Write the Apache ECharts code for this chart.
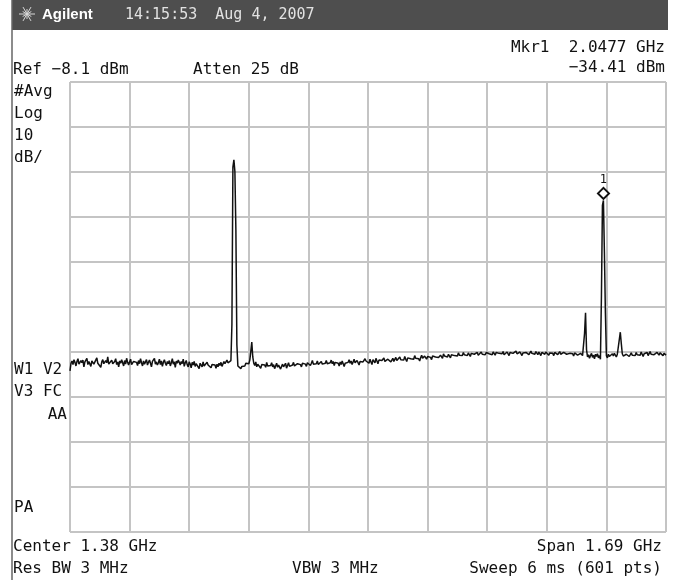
<!DOCTYPE html>
<html>
<head>
<meta charset="utf-8">
<title>Agilent spectrum</title>
<script src="https://cdn.jsdelivr.net/npm/echarts@6/dist/echarts.min.js"></script>
<style>
  html, body { margin: 0; padding: 0; background: #fff; }
  #chart { width: 680px; height: 580px; }
</style>
</head>
<body>
<div id="chart"></div>
<script>
// instrument settings, as shown on the screen
const refLevel = -8.1;     // dBm, top graticule line
const dbPerDiv = 10;
const centerMHz = 1380;
const spanMHz = 1690;
const mkrMHz = 2047.7;
const mkrLevel = -34.41;

// trace, 601 sweep points, dBm
const traceDbm = [
  -72.3, -70.6, -70.1, -70.9, -69.8, -70.4, -71.2, -70.2, -69.6, -70.8, -71.1, -70.0, -70.5, -69.9, -71.4, -70.3, -70.7, -69.5, -70.9, -70.2,
  -70.6, -71.3, -70.1, -69.7, -70.8, -70.4, -71.0, -69.4, -70.6, -70.9, -70.2, -71.5, -70.3, -69.8, -70.7, -71.1, -70.0, -70.5, -69.2, -70.8,
  -71.2, -70.4, -69.9, -70.7, -71.0, -70.2, -69.6, -70.9, -70.3, -71.4, -70.1, -70.6, -69.8, -70.5, -71.2, -70.0, -70.8, -69.5, -70.4, -71.0,
  -70.3, -69.7, -70.9, -71.3, -70.2, -70.6, -69.9, -70.4, -71.1, -70.0, -70.7, -69.6, -70.5, -71.2, -70.1, -70.8, -70.3, -69.8, -71.0, -70.4,
  -69.9, -70.6, -71.4, -70.2, -70.0, -69.5, -70.8, -70.3, -71.0, -70.5, -69.7, -70.9, -70.1, -71.3, -70.4, -69.8, -70.6, -71.1, -70.2, -70.7,
  -70.0, -71.2, -70.5, -69.6, -70.8, -70.3, -71.5, -70.1, -70.6, -69.9, -70.4, -71.0, -70.2, -70.7, -69.7, -71.3, -70.5, -70.0, -70.9, -71.4,
  -70.3, -70.8, -71.6, -70.4, -71.0, -70.2, -71.3, -70.7, -71.1, -70.5, -71.8, -70.6, -70.9, -71.4, -70.3, -71.2, -70.8, -71.5, -70.4, -71.0,
  -71.3, -70.7, -71.6, -70.9, -71.2, -70.5, -71.0, -71.7, -70.8, -71.4, -70.6, -71.1, -70.4, -71.3, -70.9, -70.2, -70.7, -70.3, -69.9, -70.5,
  -70.8, -70.2, -70.0, -62.0, -27.0, -25.4, -28.0, -41.0, -66.5, -71.2, -71.6, -71.4, -71.8, -71.3, -71.5, -70.9, -71.2, -70.6, -71.0, -70.4,
  -70.7, -69.9, -68.0, -65.9, -69.2, -70.6, -71.1, -70.3, -71.4, -70.8, -71.2, -70.5, -71.7, -70.9, -71.3, -70.6, -71.0, -71.5, -70.4, -71.2,
  -70.8, -71.6, -71.1, -70.5, -71.4, -70.9, -71.8, -71.2, -70.6, -71.5, -71.0, -70.7, -71.9, -71.3, -70.8, -71.4, -71.0, -70.6, -71.7, -71.1,
  -70.5, -71.3, -70.9, -71.6, -71.0, -70.4, -71.2, -70.8, -71.5, -70.7, -71.1, -70.3, -70.9, -71.4, -70.6, -71.0, -70.2, -70.8, -71.3, -70.5,
  -70.9, -70.3, -71.1, -70.6, -70.0, -70.8, -71.2, -70.4, -70.7, -70.1, -70.9, -71.3, -70.5, -70.2, -70.8, -70.4, -71.0, -70.6, -70.0, -70.7,
  -70.3, -71.0, -70.5, -69.9, -70.7, -70.2, -71.1, -70.4, -70.8, -70.0, -70.6, -71.2, -70.3, -70.9, -70.1, -70.5, -71.3, -70.6, -70.2, -70.8,
  -70.4, -69.8, -70.6, -70.1, -70.9, -70.3, -69.7, -70.5, -70.8, -70.0, -70.4, -71.0, -70.2, -69.9, -70.6, -70.3, -70.7, -69.6, -70.1, -70.4,
  -70.0, -70.6, -69.7, -70.3, -70.9, -69.8, -70.2, -70.5, -69.5, -70.1, -70.7, -69.9, -70.3, -69.6, -70.0, -70.4, -69.4, -70.2, -69.8, -70.5,
  -69.7, -70.1, -69.4, -70.3, -69.9, -69.5, -70.2, -69.8, -69.3, -70.0, -69.6, -70.4, -69.2, -69.8, -70.1, -69.5, -69.9, -69.1, -69.7, -70.2,
  -69.4, -69.8, -69.1, -69.6, -70.0, -69.3, -69.7, -68.9, -69.5, -69.9, -69.2, -69.6, -70.1, -69.4, -68.8, -69.5, -69.8, -69.0, -69.4, -69.7,
  -69.1, -69.5, -68.7, -69.3, -69.8, -69.0, -69.4, -68.6, -69.2, -69.6, -68.9, -69.3, -69.7, -68.8, -69.1, -69.5, -68.5, -69.0, -69.4, -68.9,
  -69.2, -68.6, -69.0, -69.4, -68.7, -69.1, -68.4, -68.9, -69.3, -68.6, -69.0, -68.3, -68.8, -69.2, -68.5, -68.9, -68.2, -68.7, -69.1, -68.6,
  -68.9, -68.3, -68.7, -69.1, -68.4, -68.8, -68.1, -68.6, -69.0, -68.5, -68.2, -68.8, -68.4, -68.9, -68.1, -68.6, -69.0, -68.3, -68.7, -68.2,
  -68.6, -68.0, -68.5, -68.9, -68.3, -68.7, -68.1, -68.4, -68.8, -68.2, -68.6, -67.9, -68.4, -68.8, -68.2, -68.5, -68.0, -68.7, -68.3, -68.6,
  -68.1, -68.5, -68.9, -68.2, -68.6, -68.0, -68.4, -68.8, -68.3, -67.9, -68.5, -68.2, -68.7, -68.1, -68.4, -68.9, -68.3, -68.0, -68.6, -68.2,
  -68.5, -68.1, -68.7, -68.3, -67.9, -68.4, -68.8, -68.2, -68.6, -68.0, -68.3, -68.7, -68.1, -68.5, -68.9, -68.2, -67.8, -68.4, -68.6, -68.1,
  -68.5, -68.2, -68.8, -68.3, -68.0, -68.6, -68.4, -68.9, -68.2, -68.5, -68.1, -68.7, -68.3, -68.0, -68.6, -68.4, -68.8, -68.2, -68.5, -68.1,
  -68.6, -68.3, -68.9, -68.4, -68.1, -68.7, -68.5, -69.0, -68.3, -68.6, -68.2, -68.8, -68.5, -69.1, -68.4, -68.7, -68.9, -69.3, -64.0, -59.4,
  -67.6, -69.2, -68.7, -69.5, -68.9, -68.4, -69.3, -68.8, -69.6, -68.6, -69.1, -68.5, -69.4, -68.9, -69.7, -55.7, -35.5, -34.41, -46.0, -59.5,
  -68.9, -69.4, -68.6, -69.1, -68.7, -69.3, -68.5, -69.0, -68.4, -68.8, -69.2, -68.6, -68.3, -68.9, -63.7, -66.2, -68.5, -69.0, -68.7, -69.3,
  -68.6, -68.9, -68.4, -69.1, -68.7, -68.3, -68.8, -69.2, -68.5, -68.9, -68.2, -68.7, -69.0, -68.4, -68.8, -68.1, -68.6, -69.1, -68.5, -68.3,
  -68.7, -68.2, -68.9, -68.5, -68.0, -68.6, -68.8, -68.3, -68.7, -68.4, -68.9, -68.2, -68.6, -68.8, -68.3, -68.7, -68.5, -68.9, -68.4, -68.6,
  -68.8
];

const startMHz = centerMHz - spanMHz / 2;
const mono = "DejaVu Sans Mono";

// x: MHz from start of span, y: dB below reference level
const traceData = traceDbm.map((v, i) => [i * spanMHz / (traceDbm.length - 1), v - refLevel]);

function txt(x, y, str, align, opts) {
  return {
    type: "text",
    x: x,
    y: y,
    style: Object.assign({
      text: str,
      fill: "#111",
      font: "16px " + mono,
      textAlign: align || "left",
      textVerticalAlign: "middle",
    }, opts || {}),
  };
}

// little Agilent spark logo
const rays = [];
for (let k = 0; k < 12; k += 1) {
  const a = (k * Math.PI) / 6;
  const r = k % 2 ? 5 : 8;
  rays.push({
    type: "line",
    shape: { x1: 27, y1: 14, x2: 27 + r * Math.cos(a), y2: 14 + r * Math.sin(a) },
    style: { stroke: "#d8d8d8", lineWidth: 1 },
  });
}

const chart = echarts.init(document.getElementById("chart"));
chart.setOption({
  animation: false,
  backgroundColor: "#fff",
  grid: { left: 70, top: 82, width: 596, height: 450, show: false },
  xAxis: {
    type: "value",
    min: 0,
    max: spanMHz,
    interval: spanMHz / 10,
    axisLine: { show: false },
    axisTick: { show: false },
    axisLabel: { show: false },
    splitLine: { show: true, lineStyle: { color: "#c4c4c4", width: 2 } },
  },
  yAxis: {
    type: "value",
    min: -10 * dbPerDiv,
    max: 0,
    interval: dbPerDiv,
    axisLine: { show: false },
    axisTick: { show: false },
    axisLabel: { show: false },
    splitLine: { show: true, lineStyle: { color: "#c4c4c4", width: 2 } },
  },
  series: [
    {
      type: "line",
      data: traceData,
      showSymbol: false,
      lineStyle: { color: "#111", width: 1.5 },
      markPoint: {
        symbol: "diamond",
        symbolSize: [11, 11],
        symbolOffset: [0, -7],
        itemStyle: { color: "#fff", borderColor: "#111", borderWidth: 2 },
        label: {
          show: true,
          formatter: "1",
          position: "top",
          distance: 1,
          color: "#111",
          fontSize: 12,
          fontFamily: mono,
        },
        data: [{ coord: [mkrMHz - startMHz, mkrLevel - refLevel] }],
      },
    },
  ],
  graphic: [
    { type: "rect", shape: { x: 12, y: 0, width: 656, height: 30 }, style: { fill: "#4e4e4e" } },
    { type: "line", shape: { x1: 12, y1: 0, x2: 12, y2: 580 }, style: { stroke: "#666", lineWidth: 1.5 } },
    ...rays,
    txt(42, 15, "Agilent", "left", { fill: "#fff", font: "bold 15px 'Liberation Sans'" }),
    txt(125, 15, "14:15:53  Aug 4, 2007", "left", { fill: "#e2e2e2", font: "15px " + mono }),
    txt(665, 48, "Mkr1  2.0477 GHz", "right"),
    txt(665, 68, "\u221234.41 dBm", "right"),
    txt(13, 70, "Ref \u22128.1 dBm", "left"),
    txt(193, 70, "Atten 25 dB", "left"),
    txt(14, 92, "#Avg", "left"),
    txt(14, 114, "Log", "left"),
    txt(14, 136, "10", "left"),
    txt(14, 158, "dB/", "left"),
    txt(14, 370, "W1 V2", "left"),
    txt(14, 392, "V3 FC", "left"),
    txt(67, 415, "AA", "right"),
    txt(14, 508, "PA", "left"),
    txt(13, 547, "Center 1.38 GHz", "left"),
    txt(662, 547, "Span 1.69 GHz", "right"),
    txt(13, 569, "Res BW 3 MHz", "left"),
    txt(292, 569, "VBW 3 MHz", "left"),
    txt(662, 569, "Sweep 6 ms (601 pts)", "right"),
  ],
});
</script>
</body>
</html>
